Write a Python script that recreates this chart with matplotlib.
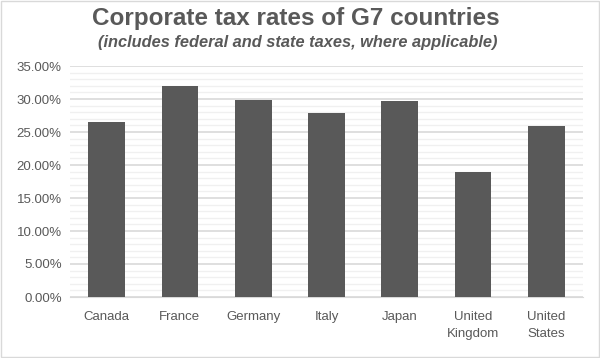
import numpy as np
import matplotlib.pyplot as plt
from matplotlib.ticker import MultipleLocator, PercentFormatter

# Dados: taxas combinadas (federal + estadual)
paises = ['Canada', 'France', 'Germany', 'Italy', 'Japan', 'United\nKingdom', 'United\nStates']
taxas = [26.5, 32.02, 29.89, 27.81, 29.74, 19.0, 25.84]

cinza = '#595959'
plt.rcParams['font.family'] = ['Liberation Sans', 'DejaVu Sans']

fig = plt.figure(figsize=(6, 3.58), dpi=100)
ax = fig.add_axes([70 / 600, 1 - 297 / 358, 513 / 600, 231 / 358])

x = np.arange(len(paises))
ax.bar(x, taxas, width=0.5, color=cinza, zorder=3)

ax.set_xlim(-0.5, len(paises) - 0.5)
ax.set_ylim(0, 35)
ax.yaxis.set_major_locator(MultipleLocator(5))
ax.yaxis.set_minor_locator(MultipleLocator(1))
ax.yaxis.set_major_formatter(PercentFormatter(decimals=2))
ax.grid(which='major', axis='y', color='#d9d9d9', linewidth=1.2, zorder=0)
ax.grid(which='minor', axis='y', color='#f0f0f0', linewidth=1.0, zorder=0)

ax.set_xticks(x)
ax.set_xticklabels(paises, fontsize=9.5, color=cinza, linespacing=1.6)
ax.tick_params(axis='y', labelsize=9.5, labelcolor=cinza, length=0, pad=6)
ax.tick_params(axis='x', length=0, pad=10)
ax.tick_params(which='minor', length=0)
for lado in ['top', 'right', 'left']:
    ax.spines[lado].set_visible(False)
ax.spines['bottom'].set_color('#d9d9d9')

# Títulos
fig.text(0.493, 1 - 18 / 358, 'Corporate tax rates of G7 countries', ha='center', va='center',
         fontsize=17.5, fontweight='bold', color=cinza)
fig.text(0.496, 1 - 42 / 358, '(includes federal and state taxes, where applicable)', ha='center',
         va='center', fontsize=11.8, fontweight='bold', fontstyle='italic', color=cinza)

# Borda do gráfico
fig.patches.append(plt.Rectangle((0.001, 0.002), 0.997, 0.995, transform=fig.transFigure,
                                 fill=False, edgecolor='#d9d9d9', linewidth=1))

fig.savefig('out.png', dpi=100)
